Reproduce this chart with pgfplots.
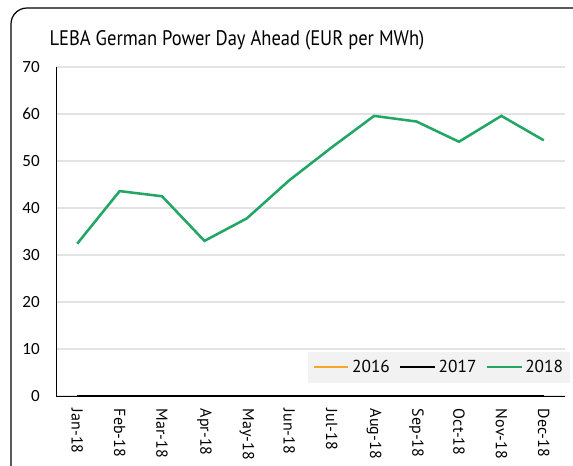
\documentclass[border=0pt]{standalone}
\usepackage{fontspec}
\setmainfont{PT Sans}
\newfontfamily\tickfont{Carlito}
\usepackage{pgfplots}
\pgfplotsset{compat=1.18}
\definecolor{g18}{RGB}{33,166,100}
\definecolor{o16}{RGB}{247,166,40}
\begin{document}
\begin{tikzpicture}
\useasboundingbox (0,0) rectangle (429.75pt,-348.75pt);
\draw[line width=0.9pt] (8.25pt,-360pt) -- (8.25pt,-18pt) arc[start angle=180,end angle=90,radius=12pt] -- (440pt,-6pt);
\node[anchor=west, inner sep=0pt, font=\fontsize{15.8}{18}\selectfont] at (37pt,-30pt) {\scalebox{0.88}[1]{LEBA German Power Day Ahead (EUR per MWh)}};
\begin{axis}[
  at={(42pt,-297pt)}, anchor=south west,
  scale only axis, width=381.75pt, height=246.75pt,
  xmin=-0.5, xmax=11.5, ymin=0, ymax=70,
  xtick={0,...,11},
  xticklabels={Jan-18,Feb-18,Mar-18,Apr-18,May-18,Jun-18,Jul-18,Aug-18,Sep-18,Oct-18,Nov-18,Dec-18},
  ytick={0,10,...,70},
  /pgf/number format/assume math mode=true,
  axis lines=left,
  axis line style={-, black, line width=0.75pt},
  ymajorgrids, grid style={gray!22, line width=0.9pt},
  major tick length=0pt,
  yticklabel style={font=\tickfont\fontsize{12.8}{14}\selectfont, inner sep=0pt},
  yticklabel shift=12pt,
  xticklabel style={rotate=-90, anchor=west, inner sep=0pt, font=\fontsize{12}{13}\selectfont},
  xticklabel shift=9.5pt,
  clip=false,
  legend columns=3,
  legend style={at={(1,0)}, anchor=south east, xshift=3.75pt, yshift=10pt, fill=gray!10, draw=gray!10,
    font=\fontsize{13}{15}\selectfont, inner ysep=4pt, inner xsep=3pt},
  legend cell align=left,
  /tikz/every even column/.append style={column sep=5pt},
  legend image code/.code={\draw[#1, line width=1.6pt] (0pt,0pt) -- (26pt,0pt);},
]
\addplot[o16, line width=1.5pt] coordinates {(0,0)(1,0)(2,0)(3,0)(4,0)(5,0)(6,0)(7,0)(8,0)(9,0)(10,0)(11,0)};
\addlegendentry{2016}
\addplot[black, line width=1.5pt] coordinates {(0,0)(1,0)(2,0)(3,0)(4,0)(5,0)(6,0)(7,0)(8,0)(9,0)(10,0)(11,0)};
\addlegendentry{2017}
\addplot[g18, line width=1.9pt] coordinates {(0,32.4)(1,43.6)(2,42.5)(3,33.0)(4,37.8)(5,45.9)(6,52.9)(7,59.6)(8,58.4)(9,54.1)(10,59.6)(11,54.4)};
\addlegendentry{2018}
\end{axis}
\end{tikzpicture}
\end{document}
